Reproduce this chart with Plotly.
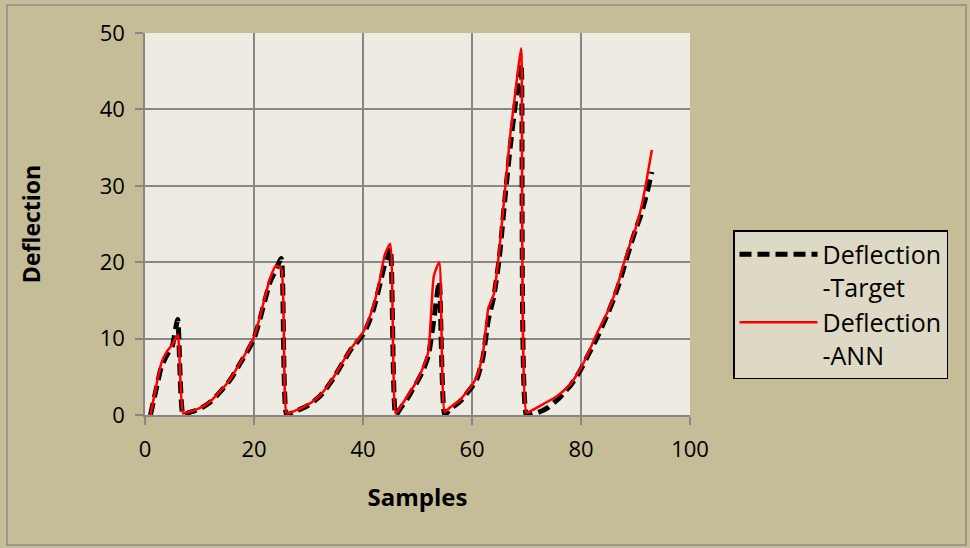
import plotly.graph_objects as go

samples = list(range(1, 94))

deflection_target = [
    0, 3.2, 6.3, 7.8, 9.0, 12.5,
    0, 0.3, 0.5, 0.8, 1.2, 1.7, 2.4, 3.2, 4.0, 5.0, 6.2, 7.4, 8.6, 10.0, 12.3, 15.0, 17.5, 19.0, 20.5,
    0, 0.3, 0.6, 0.9, 1.3, 1.8, 2.4, 3.2, 4.2, 5.3, 6.5, 7.7, 8.8, 9.6, 10.5, 12.0, 14.0, 16.8, 19.8, 21.8,
    0, 1.0, 2.0, 3.2, 4.4, 5.8, 7.8, 12.5, 17.5,
    0, 0.8, 1.3, 1.9, 2.8, 3.7, 4.9, 7.5, 12.5, 15.5, 20.5, 28.0, 35.0, 41.0, 46.0,
    0, 0.1, 0.3, 0.6, 1.0, 1.6, 2.2, 3.0, 3.8, 4.8, 6.0, 7.4, 8.8, 10.2, 11.8, 13.4, 15.2, 17.2, 19.6,
    22.0, 24.2, 26.2, 28.8, 31.8,
]

deflection_ann = [
    0, 3.6, 6.8, 8.3, 9.2, 10.5,
    0.2, 0.4, 0.6, 0.9, 1.3, 1.8, 2.5, 3.3, 4.1, 5.1, 6.3, 7.5, 8.8, 10.2, 12.6, 15.4, 18.0, 19.5, 19.2,
    0.2, 0.4, 0.7, 1.0, 1.4, 1.9, 2.5, 3.3, 4.3, 5.4, 6.6, 7.8, 8.9, 9.8, 10.8, 12.4, 14.5, 17.4, 21.0, 22.4,
    0.2, 1.2, 2.3, 3.4, 4.6, 6.2, 8.3, 18.2, 20.0,
    0.4, 1.0, 1.5, 2.1, 3.0, 3.9, 5.2, 8.0, 14.0, 15.8, 21.5, 29.0, 36.5, 42.5, 48.0,
    0.3, 0.6, 1.0, 1.4, 1.8, 2.2, 2.7, 3.3, 4.0, 5.0, 6.2, 7.6, 9.2, 10.8, 12.2, 13.7, 15.5, 17.7, 20.2,
    22.4, 24.4, 27.0, 30.6, 34.7,
]

x_ticks = [0, 20, 40, 60, 80, 100]
y_ticks = [0, 10, 20, 30, 40, 50]

FONT = "Open Sans, Noto Sans, DejaVu Sans, sans-serif"
GRID = "#878787"

fig = go.Figure()
fig.add_trace(go.Scatter(
    x=samples, y=deflection_target, mode="lines",
    name="Deflection<br>-Target",
    line=dict(color="black", width=5, dash="12px,6px", shape="spline", smoothing=0.5),
))
fig.add_trace(go.Scatter(
    x=samples, y=deflection_ann, mode="lines",
    name="Deflection<br>-ANN",
    line=dict(color="#FF0000", width=2.5, shape="spline", smoothing=0.5),
))

fig.update_layout(
    width=970, height=548,
    margin=dict(l=145, r=280, t=33, b=133),
    paper_bgcolor="#C4BD97",
    plot_bgcolor="#EEECE2",
    font=dict(family=FONT, size=22, color="black"),
    showlegend=True,
    legend=dict(
        x=(733 - 145) / 545, y=(415 - 230) / 382,
        xanchor="left", yanchor="top",
        bgcolor="#DDD9C4", bordercolor="black", borderwidth=1.5,
        font=dict(family=FONT, size=25, color="black"),
        valign="top", tracegroupgap=0, itemwidth=78,
    ),
    shapes=[dict(
        type="rect", xref="paper", yref="paper",
        x0=(7 - 145) / 545, x1=(966 - 145) / 545,
        y0=(415 - 545) / 382, y1=(415 - 5) / 382,
        line=dict(color="#8C8C8C", width=1.5), fillcolor="rgba(0,0,0,0)", layer="below",
    )],
)

fig.update_xaxes(
    range=[0, 100], tickvals=x_ticks, ticktext=[str(v) for v in x_ticks],
    showgrid=True, gridcolor=GRID, gridwidth=1.5,
    showline=True, linecolor=GRID, linewidth=1.5, mirror=False,
    ticks="outside", ticklen=8, tickcolor=GRID, tickwidth=1.5,
    zeroline=False, tickfont=dict(size=22), ticklabelstandoff=6,
    title=dict(text="<b>Samples</b>", font=dict(size=24), standoff=27),
)
fig.update_yaxes(
    range=[0, 50], tickvals=y_ticks, ticktext=[str(v) for v in y_ticks],
    showgrid=True, gridcolor=GRID, gridwidth=1.5,
    showline=True, linecolor=GRID, linewidth=1.5,
    ticks="outside", ticklen=8, tickcolor=GRID, tickwidth=1.5,
    zeroline=False, tickfont=dict(size=22), ticklabelstandoff=6,
    title=dict(text="<b>Deflection</b>", font=dict(size=23), standoff=53),
)

fig.write_html("out.html")
